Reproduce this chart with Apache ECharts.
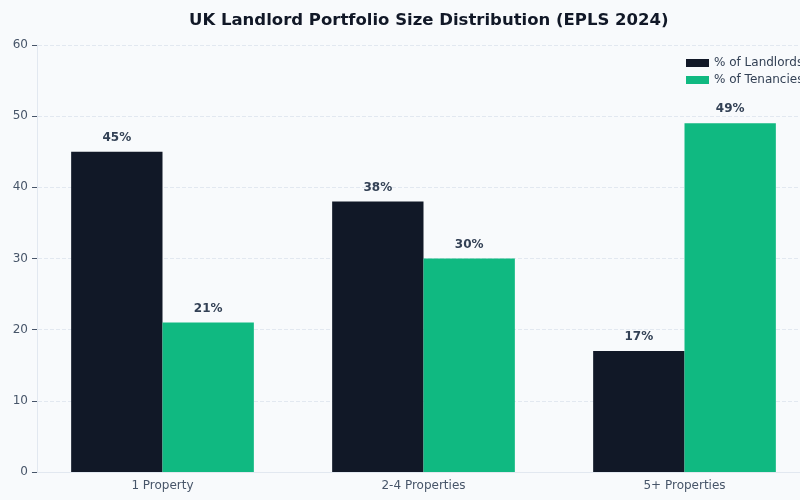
<!DOCTYPE html>
<html lang="en">
<head>
	<meta charset="UTF-8">
	<title>UK Landlord Portfolio Size Distribution</title>
	<script src="https://cdn.jsdelivr.net/npm/echarts@6/dist/echarts.min.js"></script>
	<style>
		html,body{margin:0;padding:0;background:#f8fafc;}
		#chart{width:800px;height:500px;}
	</style>
</head>
<body>
	<div id="chart"></div>
	<script type="text/javascript">
		// data
		var categories = ['1 Property', '2-4 Properties', '5+ Properties'];
		var landlords = [45, 38, 17];
		var tenancies = [21, 30, 49];
		var yTicks = [0, 10, 20, 30, 40, 50, 60];

		var font = 'DejaVu Sans';
		var myChart = echarts.init(document.getElementById('chart'));

		var labelStyle = {
			show: true,
			position: 'top',
			distance: 8,
			formatter: '{c}%',
			color: '#334155',
			fontWeight: 'bold',
			fontSize: 12,
			fontFamily: font
		};

		var option = {
			backgroundColor: '#f8fafc',
			animation: false,
			title: {
				text: 'UK Landlord Portfolio Size Distribution (EPLS 2024)',
				left: 184,
				top: 7,
				textStyle: { color: '#111827', fontSize: 16.5, fontWeight: 'bold', fontFamily: font }
			},
			legend: {
				orient: 'vertical',
				left: 681,
				top: 52,
				icon: 'rect',
				itemWidth: 23,
				itemHeight: 8,
				itemGap: 5,
				textStyle: { color: '#334155', fontSize: 12, fontFamily: font }
			},
			grid: { left: 32, right: -15, top: 45, bottom: 28, containLabel: false, outerBoundsMode: 'none' },
			xAxis: {
				type: 'category',
				data: categories,
				axisLine: { lineStyle: { color: '#e2e8f0' } },
				axisTick: { alignWithLabel: true, lineStyle: { color: '#475569' }, length: 4 },
				axisLabel: { color: '#475569', fontSize: 12, fontFamily: font, margin: 8 }
			},
			yAxis: {
				type: 'value',
				min: yTicks[0],
				max: yTicks[yTicks.length - 1],
				interval: 10,
				offset: -5,
				name: 'Percentage (%)',
				nameLocation: 'middle',
				nameGap: 41,
				nameTextStyle: { color: '#475569', fontSize: 12, fontFamily: font },
				axisLine: { show: true, lineStyle: { color: '#e2e8f0' } },
				axisTick: { show: true, length: 5, lineStyle: { color: '#475569' } },
				axisLabel: { color: '#475569', fontSize: 12, fontFamily: font, margin: 9 },
				splitLine: { lineStyle: { color: '#e2e8f0', type: 'dashed' } }
			},
			series: [
				{
					name: '% of Landlords',
					type: 'bar',
					data: landlords,
					barGap: '0%',
					barCategoryGap: '30%',
					itemStyle: { color: '#111827' },
					label: labelStyle
				},
				{
					name: '% of Tenancies',
					type: 'bar',
					data: tenancies,
					barGap: '0%',
					barCategoryGap: '30%',
					itemStyle: { color: '#10b981' },
					label: labelStyle
				}
			]
		};
		myChart.setOption(option);
	</script>
</body>
</html>
